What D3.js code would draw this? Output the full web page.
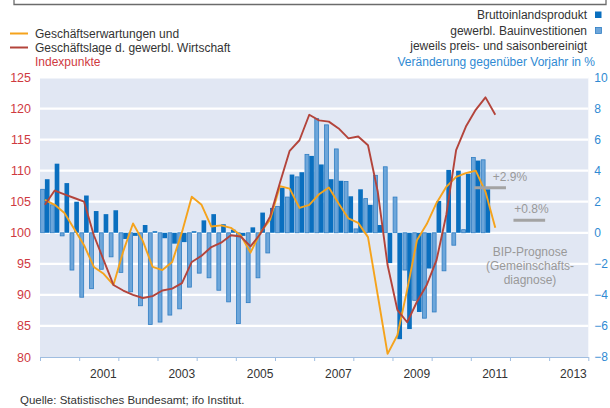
<!DOCTYPE html>
<html>
<head>
<meta charset="utf-8">
<script src="https://cdn.jsdelivr.net/npm/d3@7"></script>
<style>
  body { margin: 0; background: #fff; }
  svg { display: block; font-family: Arial, "Liberation Sans", sans-serif; }
</style>
</head>
<body>
<div id="chart"></div>
<script>
// quarters 2000Q1 .. 2011Q3 (bars stop at 2011Q2, survey lines run to 2011Q3)
var quarters = [
  "2000Q1","2000Q2","2000Q3","2000Q4","2001Q1","2001Q2","2001Q3","2001Q4",
  "2002Q1","2002Q2","2002Q3","2002Q4","2003Q1","2003Q2","2003Q3","2003Q4",
  "2004Q1","2004Q2","2004Q3","2004Q4","2005Q1","2005Q2","2005Q3","2005Q4",
  "2006Q1","2006Q2","2006Q3","2006Q4","2007Q1","2007Q2","2007Q3","2007Q4",
  "2008Q1","2008Q2","2008Q3","2008Q4","2009Q1","2009Q2","2009Q3","2009Q4",
  "2010Q1","2010Q2","2010Q3","2010Q4","2011Q1","2011Q2","2011Q3"
];

// Bruttoinlandsprodukt, % vs. Vorjahr (dark bars)
var bipValues = [
  3.45, 4.45, 3.2, 2.0, 2.4, 1.4, 1.2, 1.45,
  -0.4, -0.2, 0.5, 0.1, -0.35, -0.7, -0.6, 0.1,
  0.8, 1.2, 0.55, 0.2, -0.2, 0.35, 1.3, 1.6,
  2.9, 3.75, 3.9, 4.95, 4.4, 3.45, 3.35, 2.35,
  2.8, 1.8, 0.5, -1.95, -6.85, -6.2, -5.1, -2.3,
  2.05, 4.05, 4.0, 3.8, 4.65, 2.8
];

// gewerbl. Bauinvestitionen, % vs. Vorjahr (light bars)
var bauValues = [
  2.8, 1.8, -0.2, -2.4, -4.15, -3.6, -2.35, -1.55,
  -2.55, -3.8, -4.7, -5.9, -5.75, -5.3, -4.9, -3.5,
  -2.6, -2.9, -3.7, -4.45, -5.85, -4.5, -2.9, -1.3,
  1.7, 2.3, 3.6, 5.05, 7.35, 6.95, 5.4, 3.3,
  0.25, 2.2, 3.7, 4.25, 2.3, -2.4, -4.35, -5.5,
  -5.1, -2.45, -0.8, 0.2, 4.85, 4.7
];

// Geschaeftserwartungen (orange), Indexpunkte
var erwartungen = [
  105.3, 104.5, 103.2, 100.6, 98.0, 94.5, 93.4, 91.6,
  97.0, 101.5, 98.7, 94.5, 94.0, 95.3, 100.1, 105.8,
  104.5, 101.0, 101.2, 100.8, 99.6, 96.8, 100.0, 102.1,
  107.5, 107.1, 104.0, 104.5, 106.2, 107.3, 104.7, 102.3,
  101.6, 99.3, 89.9, 80.5, 83.5, 90.8, 98.8, 101.4,
  104.8, 107.4, 109.0, 109.6, 110.0, 106.6, 100.8
];

// Geschaeftslage (red), Indexpunkte
var lage = [
  104.5, 106.8, 106.2, 105.6, 105.0, 99.6, 95.6, 91.6,
  90.7, 90.0, 89.5, 89.8, 90.7, 91.0, 91.9, 95.3,
  96.3, 97.7, 98.4, 99.6, 99.4, 97.8, 99.8, 102.6,
  108.0, 113.2, 114.9, 119.0, 118.1, 117.9, 116.8, 115.2,
  115.5, 114.1, 106.6, 94.8, 87.6, 85.6, 88.9, 91.6,
  95.6, 102.9, 113.3, 117.1, 119.8, 121.8, 119.0
];

// BIP-Prognose
var forecastYears = [2011, 2012];
var forecastValues = [2.9, 0.8];
var forecastLabels = ["+2.9%", "+0.8%"];

var yearTicks = d3.range(2000, 2015);
var yearLabels = [2001, 2003, 2005, 2007, 2009, 2011, 2013];
var leftTicks = [80, 85, 90, 95, 100, 105, 110, 115, 120, 125];
var rightTicks = [-8, -6, -4, -2, 0, 2, 4, 6, 8, 10];

var width = 610, height = 408;
var plotLeft = 40, plotRight = 588.3, plotTop = 77.5, plotBottom = 357;

var red = "#cf3a3f", blue = "#2f8ad3", dark = "#0a6fbf", light = "#6da6da",
    lightStroke = "#2f7dc3", orange = "#f5a31c", lineRed = "#b3443b", grey = "#a3a3a3";

var svg = d3.select("#chart").append("svg")
  .attr("width", width)
  .attr("height", height);

// frame line at the very top
svg.append("path")
  .attr("d", "M14,0V4.5H606V0")
  .attr("fill", "none")
  .attr("stroke", "#6b6b6b")
  .attr("stroke-width", 1.3);

var x = d3.scaleLinear().domain([2000, 2014]).range([plotLeft, plotRight]);
var yL = d3.scaleLinear().domain([80, 125]).range([plotBottom, plotTop]);
var yR = d3.scaleLinear().domain([-8, 10]).range([plotBottom, plotTop]);

var band = d3.scaleBand()
  .domain(quarters)
  .range([x(2000), x(2011.75)])
  .paddingInner(0.05)
  .paddingOuter(0.025);
var bw = band.bandwidth();
var qCenter = function (q) { return band(q) + bw / 2; };

// plot background + white gridlines
svg.append("rect")
  .attr("x", plotLeft)
  .attr("y", plotTop)
  .attr("width", plotRight - plotLeft)
  .attr("height", plotBottom - plotTop)
  .attr("fill", "#e1e7f3");

svg.append("g").selectAll("line")
  .data(leftTicks.slice(1))
  .enter().append("line")
  .attr("x1", plotLeft)
  .attr("x2", plotRight)
  .attr("y1", function (d) { return yL(d); })
  .attr("y2", function (d) { return yL(d); })
  .attr("stroke", "#fff")
  .attr("stroke-width", 2.2);

// bars
var barData = bipValues.map(function (v, i) {
  return { q: quarters[i], bip: v, bau: bauValues[i] };
});

svg.append("g").selectAll("rect")
  .data(barData)
  .enter().append("rect")
  .attr("x", function (d) { return band(d.q) + 0.4; })
  .attr("width", bw / 2 - 0.8)
  .attr("y", function (d) { return Math.min(yR(d.bau), yR(0)); })
  .attr("height", function (d) { return Math.abs(yR(d.bau) - yR(0)); })
  .attr("fill", light)
  .attr("stroke", lightStroke)
  .attr("stroke-width", 0.8);

svg.append("g").selectAll("rect")
  .data(barData)
  .enter().append("rect")
  .attr("x", function (d) { return band(d.q) + bw / 2; })
  .attr("width", bw / 2)
  .attr("y", function (d) { return Math.min(yR(d.bip), yR(0)); })
  .attr("height", function (d) { return Math.abs(yR(d.bip) - yR(0)); })
  .attr("fill", dark);

// survey lines
var line = d3.line()
  .x(function (d, i) { return qCenter(quarters[i]); })
  .y(function (d) { return yL(d); });

svg.append("path")
  .datum(erwartungen)
  .attr("d", line)
  .attr("fill", "none")
  .attr("stroke", orange)
  .attr("stroke-width", 1.9)
  .attr("stroke-linejoin", "round");

svg.append("path")
  .datum(lage)
  .attr("d", line)
  .attr("fill", "none")
  .attr("stroke", lineRed)
  .attr("stroke-width", 1.9)
  .attr("stroke-linejoin", "round");

// forecast markers
var fc = forecastYears.map(function (yr, i) {
  return { year: yr, value: forecastValues[i], label: forecastLabels[i] };
});
svg.append("g").selectAll("line")
  .data(fc)
  .enter().append("line")
  .attr("x1", function (d) { return x(d.year) + 3.5; })
  .attr("x2", function (d) { return x(d.year + 1) - 4; })
  .attr("y1", function (d) { return yR(d.value); })
  .attr("y2", function (d) { return yR(d.value); })
  .attr("stroke", grey)
  .attr("stroke-width", 3);

svg.append("g").selectAll("text")
  .data(fc)
  .enter().append("text")
  .attr("x", function (d, i) { return i === 0 ? x(d.year + 1) : x(d.year + 0.55); })
  .attr("y", function (d) { return yR(d.value) - 7; })
  .attr("text-anchor", "middle")
  .style("font-size", "12px")
  .style("fill", "#999")
  .text(function (d) { return d.label; });

var note = svg.append("text")
  .attr("text-anchor", "middle")
  .style("font-size", "12px")
  .style("fill", "#999");
["BIP-Prognose", "(Gemeinschafts-", "diagnose)"].forEach(function (t, i) {
  note.append("tspan")
    .attr("x", 530)
    .attr("y", 256 + i * 14)
    .text(t);
});

// x axis
var xAxis = svg.append("g")
  .attr("transform", "translate(0," + plotBottom + ")")
  .call(d3.axisBottom(x).tickValues(yearTicks).tickSize(4).tickSizeOuter(0).tickFormat(""));
xAxis.select(".domain").attr("stroke", "#9fbde0");
xAxis.selectAll(".tick line").attr("stroke", "#9fbde0");

svg.append("g").selectAll("text")
  .data(yearLabels)
  .enter().append("text")
  .attr("x", function (d) { return x(d + 0.62); })
  .attr("y", 378)
  .attr("text-anchor", "middle")
  .style("font-size", "12px")
  .style("fill", "#333")
  .text(function (d) { return d; });

// left axis
var leftAxis = svg.append("g")
  .attr("transform", "translate(" + plotLeft + ",0)")
  .call(d3.axisLeft(yL).tickValues(leftTicks).tickSize(0).tickPadding(9));
leftAxis.select(".domain").remove();
leftAxis.selectAll("text")
  .style("font-size", "12.5px")
  .style("font-family", "Arial, 'Liberation Sans', sans-serif")
  .attr("fill", red);

// right axis
var rightAxis = svg.append("g")
  .attr("transform", "translate(" + plotRight + ",0)")
  .call(d3.axisRight(yR).tickValues(rightTicks).tickSize(0).tickPadding(6));
rightAxis.select(".domain").remove();
rightAxis.selectAll("text")
  .style("font-size", "12px")
  .style("font-family", "Arial, 'Liberation Sans', sans-serif")
  .attr("fill", blue);

// legend left
svg.append("line").attr("x1", 10).attr("x2", 28).attr("y1", 33.5).attr("y2", 33.5)
  .attr("stroke", orange).attr("stroke-width", 2);
svg.append("line").attr("x1", 10).attr("x2", 28).attr("y1", 47.5).attr("y2", 47.5)
  .attr("stroke", lineRed).attr("stroke-width", 2);
svg.append("text").attr("x", 35).attr("y", 37.5)
  .style("font-size", "12px").style("fill", "#333").text("Geschäftserwartungen und");
svg.append("text").attr("x", 35).attr("y", 51.5)
  .style("font-size", "12px").style("fill", "#333").text("Geschäftslage d. gewerbl. Wirtschaft");
svg.append("text").attr("x", 35).attr("y", 65.5)
  .style("font-size", "12px").style("fill", red).text("Indexpunkte");

// legend right
svg.append("rect").attr("x", 595).attr("y", 11.5).attr("width", 6.5).attr("height", 6.5)
  .attr("fill", dark);
svg.append("rect").attr("x", 595.4).attr("y", 27.4).attr("width", 6).attr("height", 6)
  .attr("fill", light).attr("stroke", lightStroke).attr("stroke-width", 0.8);
svg.append("text").attr("x", 587).attr("y", 19).attr("text-anchor", "end")
  .style("font-size", "12px").style("fill", "#333").text("Bruttoinlandsprodukt");
svg.append("text").attr("x", 587).attr("y", 34.5).attr("text-anchor", "end")
  .style("font-size", "12px").style("fill", "#333").text("gewerbl. Bauinvestitionen");
svg.append("text").attr("x", 587).attr("y", 50).attr("text-anchor", "end")
  .style("font-size", "12px").style("fill", "#333").text("jeweils preis- und saisonbereinigt");
svg.append("text").attr("x", 595).attr("y", 65.5).attr("text-anchor", "end")
  .style("font-size", "12px").style("fill", blue).text("Veränderung gegenüber Vorjahr in %");

// source
svg.append("text").attr("x", 20).attr("y", 404)
  .style("font-size", "11.5px").style("fill", "#333")
  .text("Quelle: Statistisches Bundesamt; ifo Institut.");
</script>
</body>
</html>
